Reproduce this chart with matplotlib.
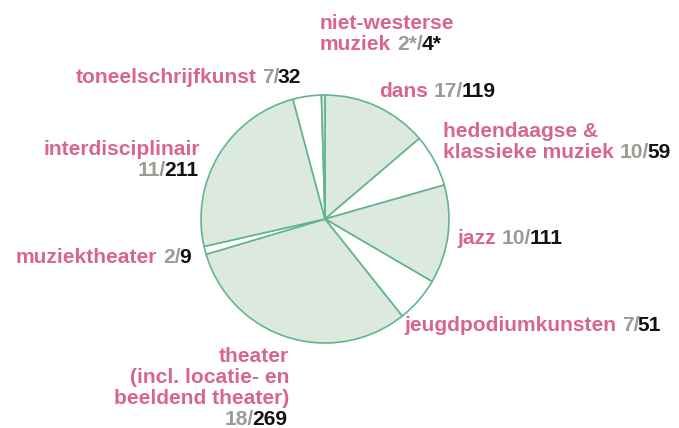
import matplotlib
matplotlib.use('Agg')
import matplotlib.pyplot as plt

# slices, clockwise from the top
categories = ["dans", "hedendaagse &\nklassieke muziek", "jazz", "jeugdpodiumkunsten",
              "theater\n(incl. locatie- en\nbeeldend theater)\n", "muziektheater",
              "interdisciplinair\n", "toneelschrijfkunst", "niet-westerse\nmuziek"]
grey_counts = ["17", "10", "10", "7", "18", "2", "11", "7", "2*"]
values = [119, 59, 111, 51, 269, 9, 211, 32, 4]
value_labels = ["119", "59", "111", "51", "269", "9", "211", "32", "4*"]

PINK = '#d8668b'
GREY = '#9c9c95'
BLACK = '#111111'
FILL = '#dce9df'
EDGE = '#63b48d'

W, H = 679, 428
fig = plt.figure(figsize=(W / 100, H / 100), dpi=100)
ax = fig.add_axes([0, 0, 1, 1])

colors = [FILL if i % 2 == 0 else 'white' for i in range(len(values))]
ax.pie(values, colors=colors, startangle=90, counterclock=False,
       center=(325, H - 219), radius=124, frame=True,
       wedgeprops=dict(edgecolor=EDGE, linewidth=1.2))
ax.set_xlim(0, W)
ax.set_ylim(0, H)
ax.axis('off')

font = dict(family='Liberation Sans', fontweight='bold', fontsize=15.1)
renderer = fig.canvas.get_renderer()


def width(s):
    t = fig.text(0, 0, s, **font)
    w = t.get_window_extent(renderer).width
    t.remove()
    return w


def draw_line(x, y, parts, ha):
    # parts: list of (text, color, nudge); spaces only between parts
    full = ''
    starts = []
    for txt, col, nudge in parts:
        full += txt
        stripped = txt.lstrip()
        starts.append(width(full) - width(stripped) + nudge)
    total = width(full)
    x0 = x if ha == 'left' else x - total
    for (txt, col, nudge), s in zip(parts, starts):
        fig.text((x0 + s) / W, 1 - y / H, txt.lstrip(), color=col,
                 va='baseline', ha='left', **font)


# label anchors: (x, first baseline, alignment) in pixels
anchors = [(379, 97, 'left'), (443, 137, 'left'), (457, 244, 'left'),
           (404, 331, 'left'), (289, 362, 'right'), (192, 263, 'right'),
           (200, 155, 'right'), (303, 83, 'right'), (320, 29, 'left')]
line_gap = 21

for name, g, v, (x, y, ha) in zip(categories, grey_counts, value_labels, anchors):
    lines = name.split('\n')
    for i, ln in enumerate(lines[:-1]):
        draw_line(x, y + i * line_gap, [(ln, PINK, 0)], ha)
    last = lines[-1]
    parts = []
    if last:
        parts.append((last, PINK, 0))
        parts.append((' ' + g + '/', GREY, 0))
    else:
        parts.append((g + '/', GREY, 0))
    parts.append((v, BLACK, -1.5))
    draw_line(x, y + (len(lines) - 1) * line_gap, parts, ha)

fig.savefig('out.png', dpi=100)
